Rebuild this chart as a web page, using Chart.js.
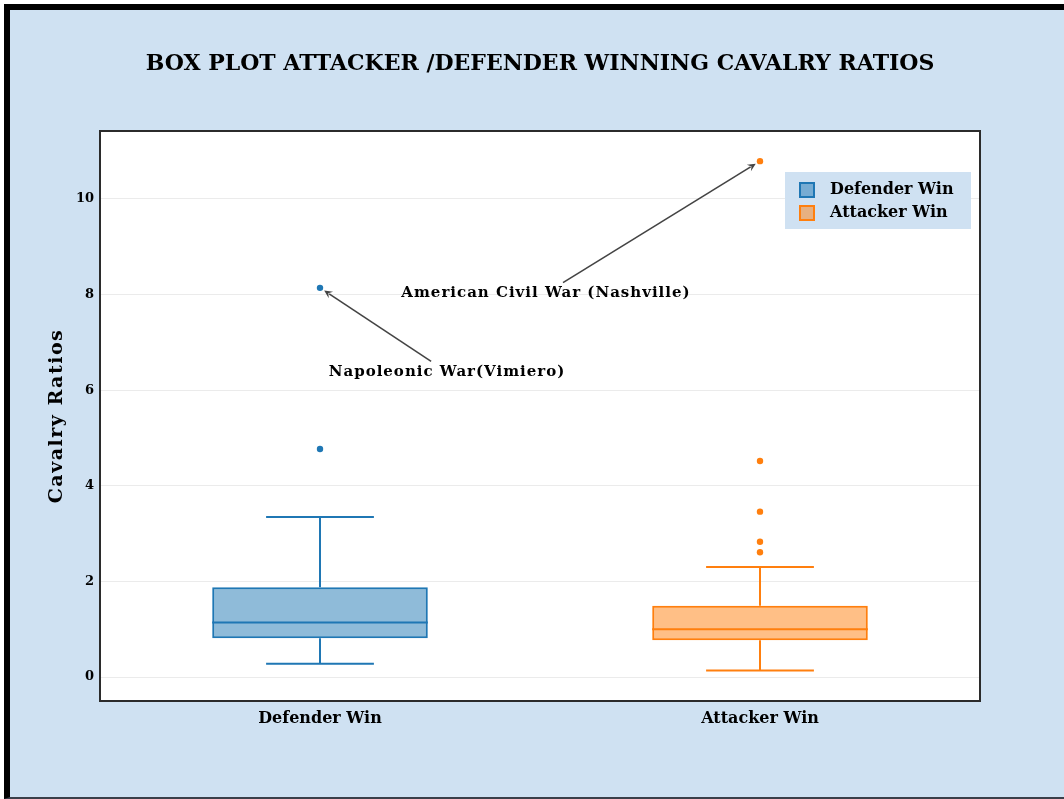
<!DOCTYPE html>
<html>
<head>
<meta charset="utf-8">
<title>Box plot cavalry ratios</title>
<script src="https://cdn.jsdelivr.net/npm/chart.js@4"></script>
<style>
    html, body { margin: 0; padding: 0; background: #fff; }
    #frame {
        position: absolute; left: 4px; top: 4px; width: 1060px; height: 795px;
        box-sizing: border-box; background: #cfe1f2;
        border-left: 6px solid #000; border-top: 6px solid #000; border-bottom: 2px solid #3a3f4a;
    }
    #wrap { position: absolute; left: 0; top: 0; width: 1064px; height: 799px; }
</style>
</head>
<body>
<div id="frame"></div>
<div id="wrap"><canvas id="chart"></canvas></div>
<script>
    // box plot stats
    const categories = ['Defender Win', 'Attacker Win'];
    const lowerWhisker = [0.28, 0.14];
    const q1Values = [0.81, 0.77];
    const medianValues = [1.14, 1.00];
    const q3Values = [1.88, 1.49];
    const upperWhisker = [3.35, 2.30];
    const defenderOutliers = [4.77, 8.14];
    const attackerOutliers = [2.61, 2.83, 3.46, 4.52, 10.79];
    const yTicks = [0, 2, 4, 6, 8, 10];

    // annotated battles
    const noteTexts = ['Napoleonic War(Vimiero)', 'American Civil War (Nashville)'];
    const noteCategories = ['Defender Win', 'Attacker Win'];
    const noteValues = [8.14, 10.79];

    const FONT = "'DejaVu Serif', serif";
    const BLUE = '#1f77b4';
    const ORANGE = '#ff7f0e';
    const colors = [BLUE, ORANGE];
    const fills = ['rgba(31,119,180,0.5)', 'rgba(255,127,14,0.5)'];
    // text offset (px) from the annotated point
    const noteOffsets = [[127, 84], [-214, 132]];

    function drawArrow(ctx, x0, y0, x1, y1) {
        const ang = Math.atan2(y1 - y0, x1 - x0);
        ctx.save();
        ctx.strokeStyle = '#444';
        ctx.fillStyle = '#444';
        ctx.lineWidth = 1.6;
        ctx.beginPath();
        ctx.moveTo(x0, y0);
        ctx.lineTo(x1 - 6 * Math.cos(ang), y1 - 6 * Math.sin(ang));
        ctx.stroke();
        ctx.beginPath();
        ctx.moveTo(x1, y1);
        ctx.lineTo(x1 - 9 * Math.cos(ang - 0.45), y1 - 9 * Math.sin(ang - 0.45));
        ctx.lineTo(x1 - 5 * Math.cos(ang), y1 - 5 * Math.sin(ang));
        ctx.lineTo(x1 - 9 * Math.cos(ang + 0.45), y1 - 9 * Math.sin(ang + 0.45));
        ctx.closePath();
        ctx.fill();
        ctx.restore();
    }

    const boxPlugin = {
        id: 'boxExtras',
        beforeDraw(chart) {
            const { ctx, chartArea: a } = chart;
            ctx.save();
            ctx.fillStyle = '#fff';
            ctx.fillRect(a.left, a.top, a.right - a.left, a.bottom - a.top);
            ctx.restore();
        },
        afterDatasetsDraw(chart) {
            const { ctx, scales: { x, y } } = chart;
            const bars = chart.getDatasetMeta(0).data;
            ctx.save();
            ctx.lineWidth = 2;
            categories.forEach((c, i) => {
                const cx = x.getPixelForValue(i);
                const half = bars[i].width / 2;
                const cap = half / 2;
                ctx.strokeStyle = colors[i];
                ctx.beginPath();
                // median
                ctx.moveTo(cx - half, y.getPixelForValue(medianValues[i]));
                ctx.lineTo(cx + half, y.getPixelForValue(medianValues[i]));
                // whiskers
                ctx.moveTo(cx, y.getPixelForValue(q3Values[i]));
                ctx.lineTo(cx, y.getPixelForValue(upperWhisker[i]));
                ctx.moveTo(cx, y.getPixelForValue(q1Values[i]));
                ctx.lineTo(cx, y.getPixelForValue(lowerWhisker[i]));
                // caps
                ctx.moveTo(cx - cap, y.getPixelForValue(upperWhisker[i]));
                ctx.lineTo(cx + cap, y.getPixelForValue(upperWhisker[i]));
                ctx.moveTo(cx - cap, y.getPixelForValue(lowerWhisker[i]));
                ctx.lineTo(cx + cap, y.getPixelForValue(lowerWhisker[i]));
                ctx.stroke();
            });
            ctx.restore();
        },
        afterDraw(chart) {
            const { ctx, chartArea: a, scales: { x, y } } = chart;
            ctx.save();
            // plot frame
            ctx.strokeStyle = '#2b2b2b';
            ctx.lineWidth = 2;
            ctx.strokeRect(a.left, a.top, a.right - a.left, a.bottom - a.top);

            // annotations
            ctx.fillStyle = '#000';
            ctx.font = 'bold 15px ' + FONT;
            ctx.letterSpacing = '1px';
            ctx.textAlign = 'center';
            ctx.textBaseline = 'middle';
            noteTexts.forEach((t, i) => {
                const px = x.getPixelForValue(categories.indexOf(noteCategories[i]));
                const py = y.getPixelForValue(noteValues[i]);
                const tx = px + noteOffsets[i][0];
                const ty = py + noteOffsets[i][1];
                ctx.fillText(t, tx, ty);
                const dx = px - tx, dy = py - ty;
                const len = Math.hypot(dx, dy);
                const s = 10.5 / Math.abs(dy);
                drawArrow(ctx, tx + dx * s, ty + dy * s, px - dx / len * 5, py - dy / len * 5);
            });
            ctx.letterSpacing = '0px';

            // legend
            const lx = a.right - 195, ly = a.top + 41;
            ctx.fillStyle = '#cfe1f2';
            ctx.fillRect(lx, ly, 186, 57);
            ctx.font = 'bold 16px ' + FONT;
            ctx.textAlign = 'left';
            categories.forEach((c, i) => {
                const yy = ly + 18 + i * 23;
                ctx.fillStyle = fills[i];
                ctx.fillRect(lx + 15, yy - 7, 14, 14);
                ctx.strokeStyle = colors[i];
                ctx.lineWidth = 2;
                ctx.strokeRect(lx + 15, yy - 7, 14, 14);
                ctx.fillStyle = '#000';
                ctx.fillText(c, lx + 45, yy);
            });

            // title
            ctx.font = 'bold 22px ' + FONT;
            ctx.textAlign = 'center';
            ctx.fillText('BOX PLOT ATTACKER /DEFENDER WINNING CAVALRY RATIOS', (a.left + a.right) / 2, 64);

            // y axis title
            ctx.translate(57, (a.top + a.bottom) / 2);
            ctx.rotate(-Math.PI / 2);
            ctx.font = 'bold 19px ' + FONT;
            ctx.letterSpacing = '1.5px';
            ctx.fillText('Cavalry Ratios', 0, 0);
            ctx.letterSpacing = '0px';
            ctx.restore();
        }
    };

    new Chart(document.getElementById('chart'), {
        type: 'bar',
        data: {
            labels: categories,
            datasets: [
                {
                    label: 'boxes',
                    data: categories.map((c, i) => [q1Values[i], q3Values[i]]),
                    backgroundColor: fills,
                    borderColor: colors,
                    borderWidth: 2,
                    borderSkipped: false,
                    barPercentage: 0.49,
                    categoryPercentage: 1
                },
                {
                    type: 'line',
                    label: 'Defender Win',
                    data: defenderOutliers.map(v => ({ x: 'Defender Win', y: v })),
                    showLine: false,
                    pointRadius: 3.2,
                    pointBorderWidth: 0,
                    pointBackgroundColor: BLUE,
                    borderColor: BLUE
                },
                {
                    type: 'line',
                    label: 'Attacker Win',
                    data: attackerOutliers.map(v => ({ x: 'Attacker Win', y: v })),
                    showLine: false,
                    pointRadius: 3.2,
                    pointBorderWidth: 0,
                    pointBackgroundColor: ORANGE,
                    borderColor: ORANGE
                }
            ]
        },
        options: {
            responsive: true,
            maintainAspectRatio: false,
            animation: false,
            layout: { padding: { left: 40, right: 84, top: 131, bottom: 58 } },
            plugins: {
                legend: { display: false },
                title: { display: false },
                tooltip: { enabled: false }
            },
            scales: {
                x: {
                    offset: true,
                    grid: { display: false, drawTicks: false },
                    border: { display: false },
                    ticks: { color: '#000', padding: 8, font: { family: FONT, size: 16, weight: 'bold' } },
                    afterFit: s => { s.height = 40; }
                },
                y: {
                    min: -0.5,
                    max: 11.42,
                    grid: { color: '#ebebeb', lineWidth: 1, drawTicks: false },
                    border: { display: false },
                    ticks: { color: '#000', padding: 6, font: { family: FONT, size: 13, weight: 'bold' } },
                    afterBuildTicks: s => { s.ticks = yTicks.map(v => ({ value: v })); },
                    afterFit: s => { s.width = 60; }
                }
            }
        },
        plugins: [boxPlugin]
    });
</script>
</body>
</html>
